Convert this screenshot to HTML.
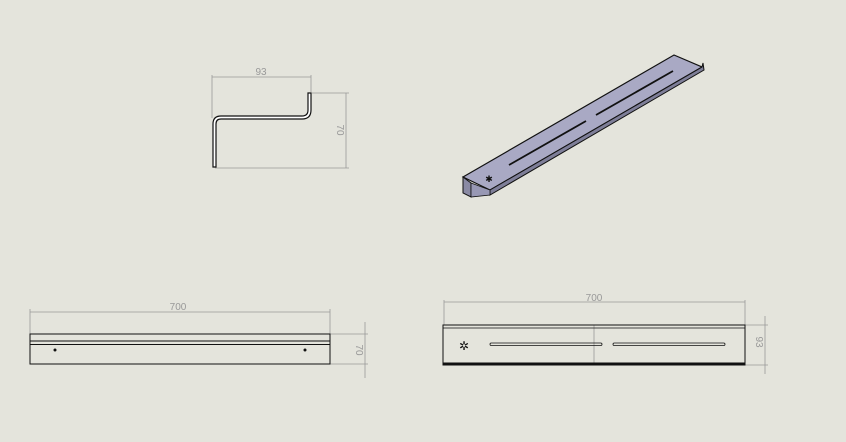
<!DOCTYPE html>
<html><head><style>body{margin:0;background:#e4e4dc}svg{display:block}</style></head><body>
<svg width="846" height="442" viewBox="0 0 846 442" xmlns="http://www.w3.org/2000/svg" font-family="Liberation Sans, sans-serif">
<rect width="846" height="442" fill="#e4e4dc"/>
<g stroke="#999" stroke-width="0.8" fill="none">
<!-- side view dims -->
<line x1="212" y1="77" x2="311" y2="77"/><line x1="212" y1="75" x2="212" y2="118"/><line x1="311" y1="75" x2="311" y2="92"/>
<line x1="312" y1="93" x2="349" y2="93"/><line x1="215" y1="168" x2="349" y2="168"/><line x1="346" y1="93" x2="346" y2="168"/>
<!-- bottom left dims -->
<line x1="30" y1="312" x2="330" y2="312"/><line x1="30" y1="309" x2="30" y2="334"/><line x1="330" y1="309" x2="330" y2="334"/>
<line x1="330" y1="334" x2="368" y2="334"/><line x1="330" y1="364" x2="368" y2="364"/><line x1="365" y1="322" x2="365" y2="378"/>
<!-- bottom right dims -->
<line x1="444" y1="302" x2="745" y2="302"/><line x1="444" y1="300" x2="444" y2="325"/><line x1="745" y1="300" x2="745" y2="325"/>
<line x1="745" y1="325" x2="768" y2="325"/><line x1="745" y1="365" x2="768" y2="365"/><line x1="765" y1="316" x2="765" y2="374"/>
<line x1="594" y1="325" x2="594" y2="365"/>
</g>
<g fill="#999" font-size="10" text-anchor="middle">
<text x="261" y="75">93</text>
<text x="178" y="310">700</text>
<text x="594" y="301">700</text>
<text transform="translate(337,130) rotate(90)">70</text>
<text transform="translate(356,350) rotate(90)">70</text>
<text transform="translate(756,342) rotate(90)">93</text>
</g>
<!-- side profile -->
<path d="M213 167 V124 Q213 116 221 116 H302 Q308 116 308 110 V93 H311 V110 Q311 119 302 119 H221 Q216 119 216 124 V167 Z" fill="#fff" stroke="#111" stroke-width="1.2"/>
<!-- bottom-left view -->
<rect x="30" y="334" width="300" height="30" fill="none" stroke="#111" stroke-width="1"/>
<line x1="30" y1="341" x2="330" y2="341" stroke="#111" stroke-width="1"/>
<line x1="30" y1="344.5" x2="330" y2="344.5" stroke="#111" stroke-width="1"/>
<circle cx="55" cy="350" r="1.5" fill="#111"/><circle cx="305" cy="350" r="1.5" fill="#111"/>
<!-- bottom-right view -->
<rect x="443" y="325" width="302" height="40" fill="none" stroke="#111" stroke-width="1"/>
<line x1="443" y1="328" x2="745" y2="328" stroke="#111" stroke-width="0.8"/>
<line x1="443" y1="363.5" x2="745" y2="363.5" stroke="#111" stroke-width="2"/>
<rect x="490" y="343" width="112" height="2.5" rx="1.2" fill="none" stroke="#111" stroke-width="0.8"/>
<rect x="613" y="343" width="112" height="2.5" rx="1.2" fill="none" stroke="#111" stroke-width="0.8"/>
<text x="464" y="350" font-size="12" text-anchor="middle" fill="#111">✲</text>
<!-- isometric -->
<polygon points="463,177 674,55 702,67 490,190" fill="#a9a9c4" stroke="#111" stroke-width="1.2"/>
<polygon points="490,190 702,67 703,63 704,70 490,195" fill="#7e7e98" stroke="#111" stroke-width="1"/>
<polygon points="463,177 463,193 471,197 471,183" fill="#8a8aa4" stroke="#111" stroke-width="1"/>
<polygon points="471,183 490,190 490,195 471,197" fill="#9898b4" stroke="#111" stroke-width="0.8"/>
<line x1="509" y1="165" x2="586" y2="121" stroke="#111" stroke-width="1.8"/>
<line x1="596" y1="115" x2="673" y2="71" stroke="#111" stroke-width="1.8"/>
<text x="489" y="182" font-size="9" fill="#111" text-anchor="middle">✱</text>
</svg>
</body></html>
